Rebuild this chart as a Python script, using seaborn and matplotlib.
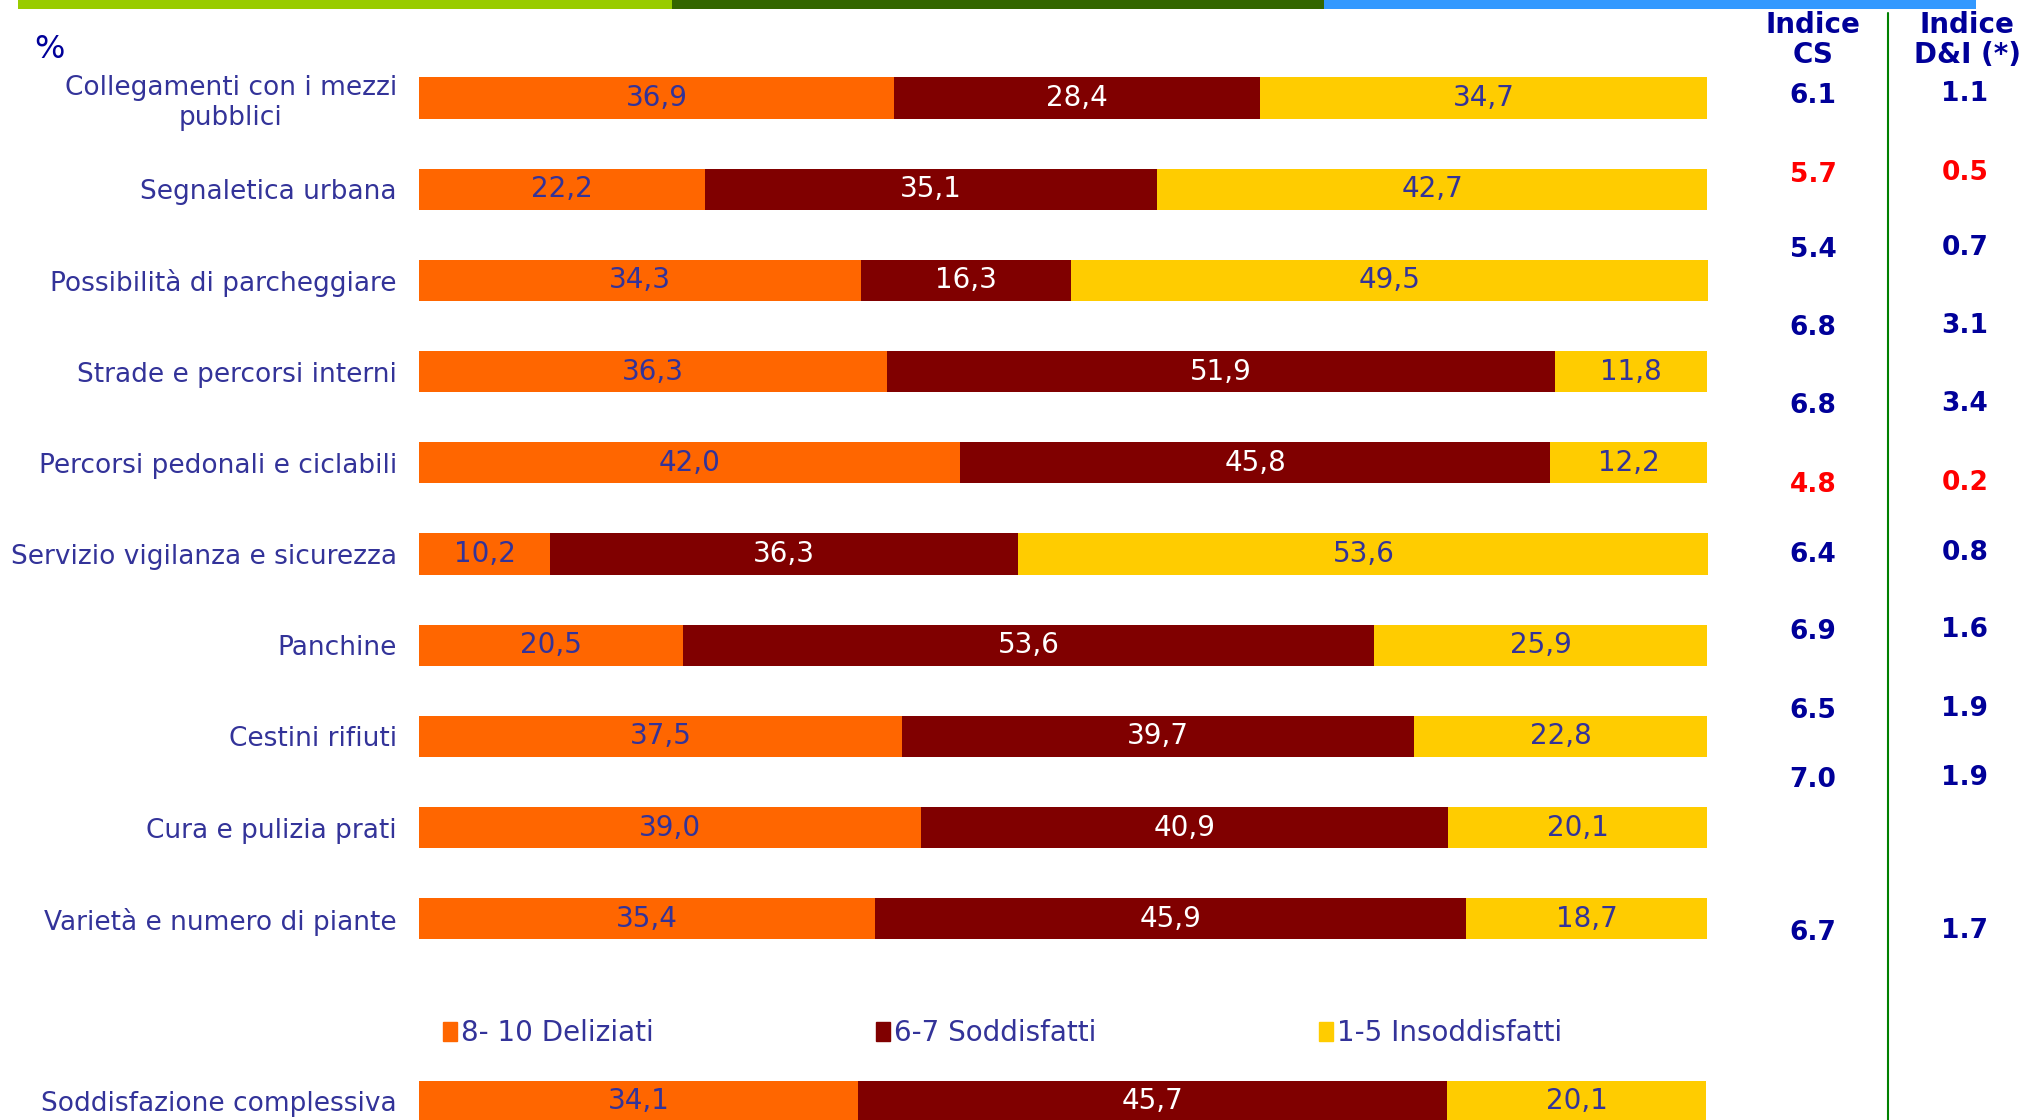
import matplotlib
matplotlib.use("Agg")
import matplotlib.pyplot as plt
import seaborn as sns
import pandas as pd
from matplotlib.patches import Patch, Rectangle
from matplotlib.lines import Line2D

# dati
categorie = [
    "Collegamenti con i mezzi\npubblici",
    "Segnaletica urbana",
    "Possibilità di parcheggiare",
    "Strade e percorsi interni",
    "Percorsi pedonali e ciclabili",
    "Servizio vigilanza e sicurezza",
    "Panchine",
    "Cestini rifiuti",
    "Cura e pulizia prati",
    "Varietà e numero di piante",
    "Soddisfazione complessiva",
]
deliziati = [36.9, 22.2, 34.3, 36.3, 42.0, 10.2, 20.5, 37.5, 39.0, 35.4, 34.1]
soddisfatti = [28.4, 35.1, 16.3, 51.9, 45.8, 36.3, 53.6, 39.7, 40.9, 45.9, 45.7]
insoddisfatti = [34.7, 42.7, 49.5, 11.8, 12.2, 53.6, 25.9, 22.8, 20.1, 18.7, 20.1]

indice_cs = ["6.1", "5.7", "5.4", "6.8", "6.8", "4.8", "6.4", "6.9", "6.5", "7.0", "6.7"]
indice_di = ["1.1", "0.5", "0.7", "3.1", "3.4", "0.2", "0.8", "1.6", "1.9", "1.9", "1.7"]
indice_rosso = [False, True, False, False, False, True, False, False, False, False, False]

legenda = ["8- 10 Deliziati", "6-7 Soddisfatti", "1-5 Insoddisfatti"]

# layout (pixel della figura, non dati)
riga = [0, 1, 2, 3, 4, 5, 6, 7, 8, 9, 11]
y_indici_px = [96, 175, 250, 328, 406, 485, 555, 632, 711, 780, 933]

ARANCIO = "#FF6600"
BORDEAUX = "#800000"
GIALLO = "#FFCC00"
BLU_TESTO = "#333399"
BLU_IND = "#000099"
ROSSO = "#FF0000"

sns.set_theme(style="white")
plt.rcParams["font.family"] = ["DejaVu Sans"]

W, H = 2032, 1120
fig = plt.figure(figsize=(W / 100, H / 100), dpi=100)
ax = fig.add_axes([419 / W, 0, (1708 - 419) / W, 1])

df = pd.DataFrame({
    "pos": riga,
    "d": deliziati,
    "s": soddisfatti,
    "i": insoddisfatti,
})
df["tot"] = df["d"] + df["s"] + df["i"]
df["ds"] = df["d"] + df["s"]

kw = dict(orient="h", native_scale=True, width=0.45, saturation=1,
          errorbar=None, linewidth=0, ax=ax)
sns.barplot(data=df, x="tot", y="pos", color=GIALLO, **kw)
sns.barplot(data=df, x="ds", y="pos", color=BORDEAUX, **kw)
sns.barplot(data=df, x="d", y="pos", color=ARANCIO, **kw)

k0 = -98 / 91.2
k1 = (H - 98) / 91.2
ax.set_ylim(k1, k0)
ax.set_xlim(0, 100.05)
ax.set_xlabel("")
ax.set_ylabel("")
ax.set_xticks([])
ax.set_yticks(riga)
ax.set_yticklabels(categorie, fontsize=19, color=BLU_TESTO)
for lbl in ax.get_yticklabels():
    lbl.set_multialignment("center")
ax.tick_params(axis="y", length=0, pad=16)
sns.despine(ax=ax, left=True, bottom=True)

def fmt(v):
    return f"{v:.1f}".replace(".", ",")

for _, r in df.iterrows():
    y = r["pos"]
    ax.text(r["d"] / 2, y, fmt(r["d"]), ha="center", va="center",
            fontsize=20, color=BLU_TESTO)
    ax.text(r["d"] + r["s"] / 2, y, fmt(r["s"]), ha="center", va="center",
            fontsize=20, color="white")
    ax.text(r["ds"] + r["i"] / 2, y, fmt(r["i"]), ha="center", va="center",
            fontsize=20, color=BLU_TESTO)

# legenda
handles = [Patch(color=c) for c in (ARANCIO, BORDEAUX, GIALLO)]
fig.legend(handles, legenda, loc="center left", bbox_to_anchor=(432 / W, 1 - 1033 / H),
           ncol=3, frameon=False, fontsize=20, labelcolor=BLU_TESTO,
           handlelength=0.5, handleheight=0.7, handletextpad=0.15,
           columnspacing=8.0, borderaxespad=0)

# barra superiore
for x0, x1, c in [(18, 672, "#99CC00"), (672, 1324, "#336600"), (1324, 1976, "#3399FF")]:
    fig.add_artist(Rectangle((x0 / W, 1 - 9 / H), (x1 - x0) / W, 9 / H,
                             transform=fig.transFigure, color=c, lw=0))

fig.text(49 / W, 1 - 50 / H, "%", fontsize=23, color=BLU_IND, ha="center", va="center")

# colonne indici
fig.add_artist(Line2D([1888 / W, 1888 / W], [0, 1 - 13 / H], transform=fig.transFigure,
                      color="#008000", lw=1.5))
fig.text(1813 / W, 1 - 40 / H, "Indice\nCS", fontsize=20, fontweight="bold",
         color=BLU_IND, ha="center", va="center", linespacing=1.05)
fig.text(1967 / W, 1 - 40 / H, "Indice\nD&I (*)", fontsize=20, fontweight="bold",
         color=BLU_IND, ha="center", va="center", linespacing=1.05)
for cs, di, rosso, ypx in zip(indice_cs, indice_di, indice_rosso, y_indici_px):
    col = ROSSO if rosso else BLU_IND
    fig.text(1813 / W, 1 - ypx / H, cs, fontsize=19, fontweight="bold",
             color=col, ha="center", va="center")
    fig.text(1965 / W, 1 - (ypx - 2) / H, di, fontsize=19, fontweight="bold",
             color=col, ha="center", va="center")

fig.savefig("out.png", dpi=100)
